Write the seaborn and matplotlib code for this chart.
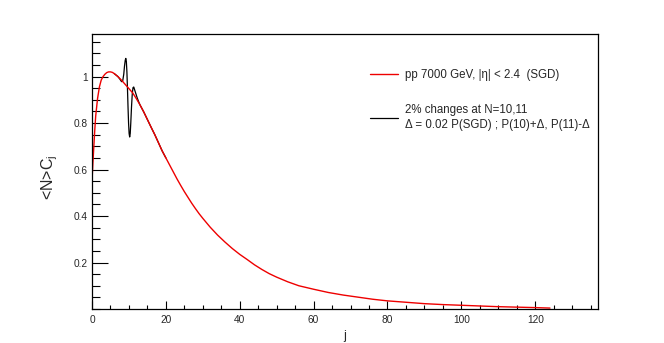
import numpy as np
import pandas as pd
import seaborn as sns
import matplotlib.pyplot as plt
from matplotlib.ticker import MultipleLocator, FixedLocator

# SGD curve
red_j = [0, 0.25, 0.5, 0.75, 1, 1.5, 2, 2.5, 3, 3.5, 4, 4.5, 5, 5.5, 6, 7, 8, 9,
         10, 11, 12, 13, 14, 15, 16, 17, 18, 19, 20, 21, 22, 23, 24, 25, 26, 27,
         28, 29, 30, 32, 34, 36, 38, 40, 42, 44, 46, 48, 50, 53, 56, 60, 64, 68,
         72, 76, 80, 85, 90, 95, 100, 105, 110, 115, 120, 124]
red_v = [0.55, 0.63, 0.70, 0.77, 0.83, 0.905, 0.955, 0.985, 1.0, 1.01, 1.017,
         1.02, 1.02, 1.018, 1.013, 1.0, 0.984, 0.966, 0.948, 0.93, 0.905, 0.878,
         0.848, 0.815, 0.782, 0.75, 0.715, 0.68, 0.65, 0.62, 0.59, 0.56, 0.532,
         0.505, 0.48, 0.455, 0.432, 0.41, 0.39, 0.352, 0.318, 0.288, 0.26, 0.235,
         0.213, 0.19, 0.17, 0.152, 0.137, 0.117, 0.100, 0.085, 0.071, 0.060,
         0.051, 0.042, 0.035, 0.029, 0.023, 0.019, 0.016, 0.013, 0.010, 0.008,
         0.006, 0.004]

# modified curve (2% changes at N=10,11)
blk_j = [6, 7, 7.5, 8.0, 8.3, 8.6, 8.8, 9.0, 9.15, 9.3, 9.45, 9.6, 9.75, 9.9,
         10.05, 10.2, 10.35, 10.5, 10.7, 10.9, 11.1, 11.3, 11.5, 11.8, 12.2,
         12.6, 13.0, 13.5, 14, 15, 16, 17, 18, 19, 20]
blk_v = [1.013, 1.0, 0.99, 0.978, 0.98, 1.01, 1.045, 1.07, 1.078, 1.065, 1.02,
         0.95, 0.87, 0.80, 0.755, 0.74, 0.755, 0.80, 0.87, 0.925, 0.952, 0.955,
         0.945, 0.93, 0.91, 0.893, 0.878, 0.863, 0.848, 0.815, 0.782, 0.75,
         0.715, 0.68, 0.65]

lab_red = "pp 7000 GeV, |\u03b7| < 2.4  (SGD)"
lab_blk = "2% changes at N=10,11\n\u0394 = 0.02 P(SGD) ; P(10)+\u0394, P(11)-\u0394"

sns.set_theme(style="ticks")
plt.rcParams['font.family'] = ['Liberation Sans', 'DejaVu Sans']
plt.rcParams['mathtext.fontset'] = 'custom'
plt.rcParams['mathtext.rm'] = 'Liberation Sans'
plt.rcParams['mathtext.it'] = 'Liberation Sans'

df_red = pd.DataFrame({'j': red_j, 'v': red_v})
df_blk = pd.DataFrame({'j': blk_j, 'v': blk_v})

fig = plt.figure(figsize=(6.64, 3.43), dpi=100)
ax = fig.add_axes([92 / 664, 1 - 309 / 343, (598 - 92) / 664, (309 - 34) / 343])

sns.lineplot(data=df_blk, x='j', y='v', color='black', lw=0.9, sort=False,
             ax=ax, label=lab_blk)
sns.lineplot(data=df_red, x='j', y='v', color='#ee0000', lw=1.0, sort=False,
             ax=ax, label=lab_red)

ax.set_xlim(0, 137)
ax.set_ylim(0, 1.183)

ax.xaxis.set_major_locator(MultipleLocator(20))
ax.xaxis.set_minor_locator(MultipleLocator(5))
ax.yaxis.set_major_locator(FixedLocator([0.2, 0.4, 0.6, 0.8, 1.0]))
ax.yaxis.set_minor_locator(MultipleLocator(0.05))
ax.set_yticklabels(['0.2', '0.4', '0.6', '0.8', '1'])

ax.tick_params(axis='both', which='both', direction='in', color='black',
               labelsize=7.3, width=0.8)
ax.tick_params(axis='y', which='major', length=11.3, pad=3)
ax.tick_params(axis='y', which='minor', length=5.8)
ax.tick_params(axis='x', which='major', length=5.5, pad=4)
ax.tick_params(axis='x', which='minor', length=3)
for s in ax.spines.values():
    s.set_color('black')
    s.set_linewidth(0.9)
    s.set_visible(True)

ax.set_xlabel('j', fontsize=9)
ax.set_ylabel('<N>C$_\\mathregular{j}$', fontsize=11.5)
ax.xaxis.set_label_coords(0.5, -0.075)
ax.yaxis.set_label_coords(-0.064, 0.48)

h, l = ax.get_legend_handles_labels()
leg = ax.legend([h[1], h[0]], [l[1], l[0]], loc='upper left',
                bbox_to_anchor=(0.528, 0.909), frameon=False, fontsize=8.3,
                handlelength=2.45, handletextpad=0.6, labelspacing=1.95)
for t in leg.get_texts():
    t.set_linespacing(1.35)

fig.savefig('out.png', dpi=100)
